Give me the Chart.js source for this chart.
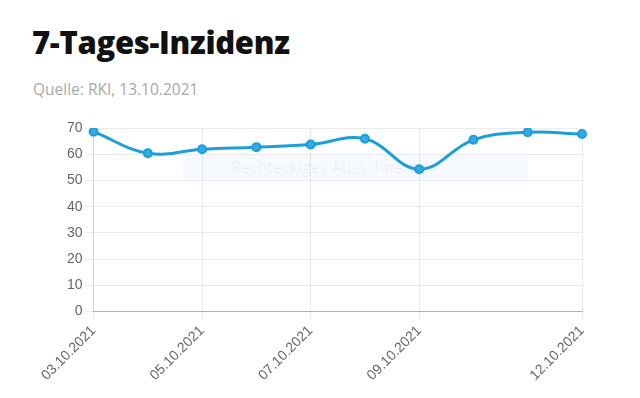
<!DOCTYPE html>
<html lang="de">
<head>
<meta charset="utf-8">
<title>7-Tages-Inzidenz</title>
<script src="https://cdn.jsdelivr.net/npm/chart.js@4/dist/chart.umd.min.js"></script>
<style>
  html, body { margin: 0; padding: 0; background: #fff; }
  body { width: 640px; height: 398px; position: relative; overflow: hidden; }
  h1 {
    position: absolute; left: 32px; top: 21px; margin: 0;
    font: 800 31px "Open Sans", sans-serif; color: #111; letter-spacing: -0.3px;
  }
  .quelle {
    position: absolute; left: 33px; top: 78px;
    font: 15.5px "Open Sans", sans-serif; color: #a8a8a8;
  }
  .snip {
    position: absolute; left: 183px; top: 155px; width: 345px; height: 25px;
    background: rgba(230, 240, 252, 0.35);
    font: 16px "Open Sans", sans-serif; color: rgba(0, 0, 0, 0.06);
    line-height: 25px; padding-left: 48px; box-sizing: border-box;
  }
  #wrap { position: absolute; left: 0; top: 108px; width: 640px; height: 290px; }
</style>
</head>
<body>
<h1>7-Tages-Inzidenz</h1>
<div class="quelle">Quelle: RKI, 13.10.2021</div>
<div class="snip">Rechteckiges Ausschneiden</div>
<div id="wrap"><canvas id="grafica"></canvas></div>
<script>
// Datum der Meldung
const TAGE = [
  "03.10.2021", "04.10.2021", "05.10.2021", "06.10.2021", "07.10.2021",
  "08.10.2021", "09.10.2021", "10.10.2021", "11.10.2021", "12.10.2021",
];
// 7-Tages-Inzidenz je 100.000 Einwohner
const INZIDENZ = [68.6, 60.4, 61.9, 62.7, 63.7, 65.9, 54.3, 65.5, 68.4, 67.7];
// beschriftete Achsenpunkte
const ACHSEN_LABELS = ["03.10.2021", "05.10.2021", "07.10.2021", "09.10.2021", "12.10.2021"];
const Y_TICKS = [0, 10, 20, 30, 40, 50, 60, 70];

const BLAU = "#1a9fdb";
const SCHRIFT = { family: "'Liberation Sans', Arial, sans-serif", size: 14 };

new Chart(document.getElementById("grafica"), {
  type: "line",
  data: {
    labels: TAGE,
    datasets: [{
      label: "7-Tages-Inzidenz",
      data: INZIDENZ,
      borderColor: BLAU,
      backgroundColor: BLAU,
      borderWidth: 3,
      tension: 0.4,
      fill: false,
      pointRadius: 4,
      pointBorderWidth: 2,
      pointBackgroundColor: "#34abe2",
      pointBorderColor: BLAU,
    }],
  },
  options: {
    responsive: true,
    maintainAspectRatio: false,
    animation: false,
    layout: { padding: { left: 64, right: 58, top: 20, bottom: 11 } },
    plugins: {
      legend: { display: false },
      tooltip: { enabled: false },
    },
    scales: {
      x: {
        grid: { color: "rgba(0, 0, 0, 0.08)", tickLength: 8 },
        border: { color: "rgba(0, 0, 0, 0.25)" },
        ticks: {
          autoSkip: false,
          maxRotation: 45,
          minRotation: 45,
          color: "#666",
          font: SCHRIFT,
          callback(value) {
            const label = this.getLabelForValue(value);
            return ACHSEN_LABELS.includes(label) ? label : null;
          },
        },
      },
      y: {
        min: Y_TICKS[0],
        max: Y_TICKS[Y_TICKS.length - 1],
        grid: { color: "rgba(0, 0, 0, 0.08)", tickLength: 8 },
        border: { color: "rgba(0, 0, 0, 0.1)" },
        ticks: {
          stepSize: 10,
          color: "#666",
          font: SCHRIFT,
        },
      },
    },
  },
});
</script>
</body>
</html>
